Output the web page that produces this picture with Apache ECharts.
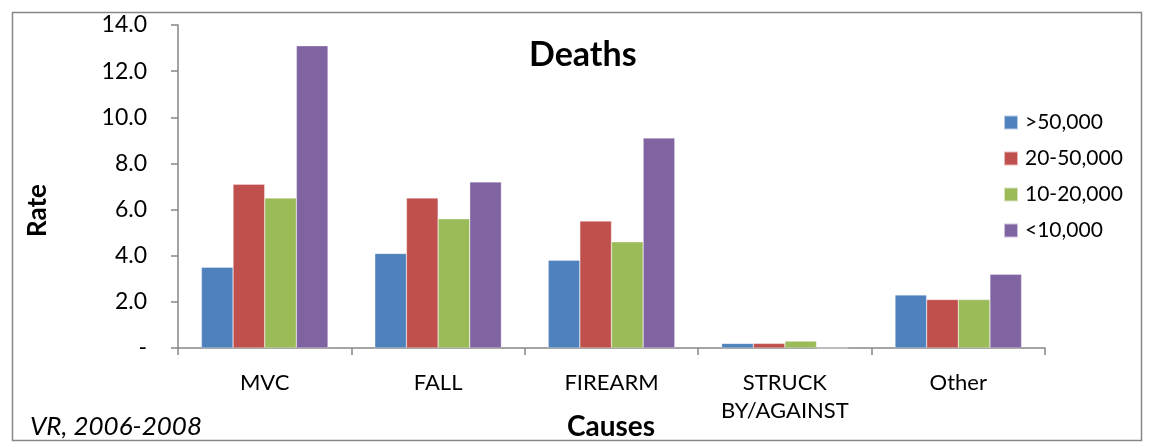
<!DOCTYPE html>
<html>
<head>
<meta charset="utf-8">
<script src="https://cdn.jsdelivr.net/npm/echarts@6/dist/echarts.min.js"></script>
<style>
html,body{margin:0;padding:0;background:#fff;}
#c{width:1149px;height:445px;}
</style>
</head>
<body>
<div id="c"></div>
<script>
const categories = ['MVC', 'FALL', 'FIREARM', 'STRUCK\nBY/AGAINST', 'Other'];
const seriesNames = ['>50,000', '20-50,000', '10-20,000', '<10,000'];
const over50k = [3.5, 4.1, 3.8, 0.2, 2.3];
const from20to50k = [7.1, 6.5, 5.5, 0.2, 2.1];
const from10to20k = [6.5, 5.6, 4.6, 0.3, 2.1];
const under10k = [13.1, 7.2, 9.1, 0, 3.2];
const colors = ['#4F81BD', '#C0504D', '#9BBB59', '#8064A2'];
const yTicks = { min: 0, max: 14, interval: 2 };

const FONT = 'Lato, "Open Sans", sans-serif';
const chart = echarts.init(document.getElementById('c'), null, { renderer: 'canvas' });
const allData = [over50k, from20to50k, from10to20k, under10k];

chart.setOption({
  animation: false,
  backgroundColor: '#fff',
  textStyle: { fontFamily: FONT },
  grid: { left: 178, right: 104, top: 25, bottom: 97, containLabel: false },
  legend: {
    orient: 'vertical',
    left: 998,
    top: 107,
    itemWidth: 14,
    itemHeight: 14,
    itemGap: 15,
    icon: 'rect',
    textStyle: { fontFamily: FONT, fontSize: 21, color: '#000', padding: [0, 0, 0, 2] },
    data: seriesNames
  },
  xAxis: {
    type: 'category',
    data: categories,
    axisLine: { lineStyle: { color: '#868686', width: 1.5 } },
    axisTick: { show: true, length: 7, interval: 0, lineStyle: { color: '#868686', width: 1.5 } },
    axisLabel: { fontFamily: FONT, fontSize: 22, color: '#000', margin: 21, interval: 0, lineHeight: 28 },
    splitLine: { show: false }
  },
  yAxis: {
    type: 'value',
    min: yTicks.min,
    max: yTicks.max,
    interval: yTicks.interval,
    axisLine: { show: true, lineStyle: { color: '#868686', width: 1.5 } },
    axisTick: { show: true, length: 7, lineStyle: { color: '#868686', width: 1.5 } },
    axisLabel: {
      fontFamily: FONT, fontSize: 23, color: '#000', margin: 31,
      formatter: v => v === 0 ? '-' : v.toFixed(1)
    },
    splitLine: { show: false }
  },
  series: seriesNames.map((n, i) => ({
    name: n,
    type: 'bar',
    data: allData[i],
    barGap: '0%',
    barCategoryGap: '27%',
    itemStyle: { color: colors[i], borderColor: 'rgba(255,255,255,0.6)', borderWidth: 0.5 }
  })),
  graphic: [
    { type: 'rect', left: 10, top: 10, shape: { width: 1129, height: 428 }, style: { fill: 'none', stroke: '#868686', lineWidth: 1.5 }, z: 100 },
    { type: 'text', left: 529, top: 38, style: { text: 'Deaths', font: 'bold 34px ' + FONT, fill: '#000' } },
    { type: 'text', left: 25, top: 184, rotation: Math.PI / 2, style: { text: 'Rate', font: 'bold 26px ' + FONT, fill: '#000' } },
    { type: 'text', left: 567, top: 413, style: { text: 'Causes', font: 'bold 28px ' + FONT, fill: '#000' } },
    { type: 'text', left: 30, top: 414, style: { text: 'VR, 2006-2008', font: 'italic 26px ' + FONT, fill: '#000' } }
  ]
});
</script>
</body>
</html>
